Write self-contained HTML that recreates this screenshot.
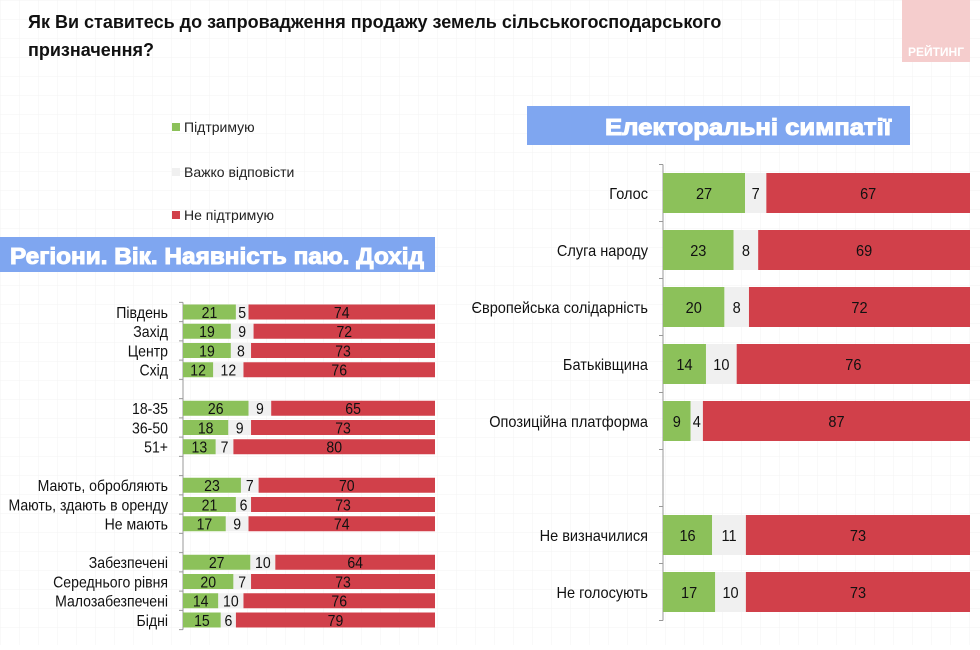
<!DOCTYPE html>
<html><head><meta charset="utf-8"><style>
html,body{margin:0;padding:0;background:#fff;}
body{width:980px;height:645px;overflow:hidden;font-family:"Liberation Sans",sans-serif;}
</style></head><body>
<svg id="chart" width="980" height="645" xmlns="http://www.w3.org/2000/svg" style="font-family:'Liberation Sans',sans-serif">
<defs><pattern id="grid" width="19" height="19" patternUnits="userSpaceOnUse"><path d="M19 0H0V19" fill="none" stroke="#f3f3f3" stroke-width="1"/></pattern></defs>
<rect width="980" height="645" fill="url(#grid)"/>
<rect x="902" y="0" width="68" height="62" fill="#f5cdcd"/>
<text x="936" y="56" text-anchor="middle" fill="#fff" font-size="12" font-weight="bold">РЕЙТИНГ</text>
<text x="28" y="28" font-size="18" font-weight="bold" fill="#111">Як Ви ставитесь до запровадження продажу земель сільськогосподарського</text>
<text x="28" y="56" font-size="18" font-weight="bold" fill="#111">призначення?</text>
<g>
<rect x="172" y="123" width="8" height="8" fill="#8cc15a"/>
<text x="184" y="132" font-size="14" fill="#222">Підтримую</text>
<rect x="172" y="168" width="8" height="8" fill="#f0f0f0"/>
<text x="184" y="177" font-size="14" fill="#222">Важко відповісти</text>
<rect x="172" y="211" width="8" height="8" fill="#d1404a"/>
<text x="184" y="220" font-size="14" fill="#222">Не підтримую</text>
</g>
<rect x="0" y="237" width="435" height="35" fill="#7fa6f0"/>
<text x="10" y="264" textLength="414" lengthAdjust="spacingAndGlyphs" font-size="23" font-weight="900" fill="#fff" stroke="#fff" stroke-width="1">Регіони. Вік. Наявність паю. Дохід</text>
<rect x="527" y="106" width="383" height="39" fill="#7fa6f0"/>
<text x="605" y="135" textLength="286" lengthAdjust="spacingAndGlyphs" font-size="23" font-weight="900" fill="#fff" stroke="#fff" stroke-width="1">Електоральні симпатії</text>
<g id="left"></g>
<g id="right"></g>
</svg>
<script>
const leftCats=["Південь","Захід","Центр","Схід",null,"18-35","36-50","51+",null,"Мають, обробляють","Мають, здають в оренду","Не мають",null,"Забезпечені","Середнього рівня","Малозабезпечені","Бідні"];
const leftSupport=[21,19,19,12,null,26,18,13,null,23,21,17,null,27,20,14,15];
const leftHard=[5,9,8,12,null,9,9,7,null,7,6,9,null,10,7,10,6];
const leftOppose=[74,72,73,76,null,65,73,80,null,70,73,74,null,64,73,76,79];
const rightCats=["Голос","Слуга народу","Європейська солідарність","Батьківщина","Опозиційна платформа",null,"Не визначилися","Не голосують"];
const rightSupport=[27,23,20,14,9,null,16,17];
const rightHard=[7,8,8,10,4,null,11,10];
const rightOppose=[67,69,72,76,87,null,73,73];
const NS="http://www.w3.org/2000/svg";
function mk(tag,attrs,parent){const e=document.createElementNS(NS,tag);for(const k in attrs)e.setAttribute(k,attrs[k]);parent.appendChild(e);return e;}
function txt(g,x,y,anchor,fs,sc,content){
  const t=mk('text',{x:0,y:0,'text-anchor':anchor,'font-size':fs,fill:'#111',transform:`translate(${x},${y}) scale(${sc},1)`},g);
  t.textContent=content;return t;
}
function draw(g,cats,s,h,o,cfg){
  const n=cats.length;
  const y=i=>cfg.y0+i*cfg.step;
  const ax=mk('line',{x1:cfg.x0,x2:cfg.x0,y1:y(0)-cfg.step/2,y2:y(n-1)+cfg.step/2,stroke:'#999'},g);
  
  
  for(let i=0;i<=n;i++){const t=mk('line',{x1:cfg.x0-4,x2:cfg.x0,y1:y(i)-cfg.step/2,y2:y(i)-cfg.step/2,stroke:'#999'},g);
    
    }
  cats.forEach((c,i)=>{
    if(c===null)return;
    const tot=s[i]+h[i]+o[i];
    const x=v=>cfg.x0+v/tot*(cfg.x1-cfg.x0);
    const cy=y(i);
    const lab=txt(g,cfg.x0-15,cy+cfg.fs*0.36,'end',cfg.fs,cfg.sc,c);
    
    
    const segs=[[0,s[i],'#8cc15a','bar-support'],[s[i],s[i]+h[i],'#f0f0f0','bar-hard'],[s[i]+h[i],tot,'#d1404a','bar-oppose']];
    segs.forEach(([a,b,col,nm],k)=>{
      const r=mk('rect',{x:x(a),y:cy-cfg.bh/2,width:x(b)-x(a),height:cfg.bh,fill:col},g);
      
      
      const t=txt(g,(x(a)+x(b))/2,cy+cfg.fs*0.36,'middle',cfg.fs,cfg.sc,[s[i],h[i],o[i]][k]);
      
      
    });
  });
}
draw(document.getElementById('left'),leftCats,leftSupport,leftHard,leftOppose,{x0:183,x1:435,y0:312,step:19.25,bh:15,fs:16,sc:0.88});
draw(document.getElementById('right'),rightCats,rightSupport,rightHard,rightOppose,{x0:663,x1:970,y0:193,step:57,bh:40,fs:16,sc:0.91});
</script>
</body></html>
